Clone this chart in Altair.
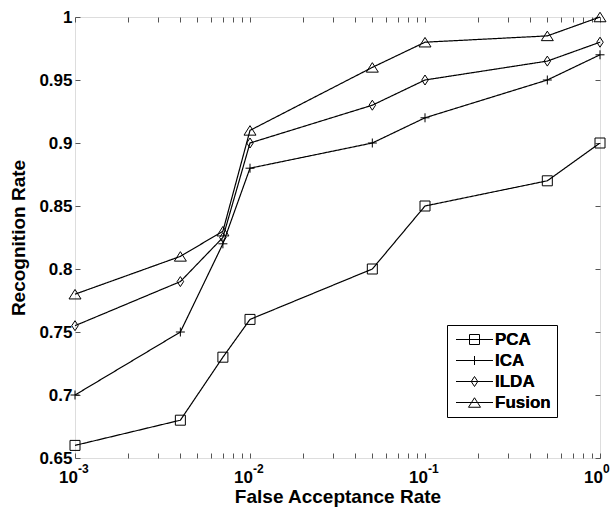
import altair as alt
import pandas as pd

# ---- data ----
far = [0.001, 0.004, 0.007, 0.01, 0.05, 0.1, 0.5, 1.0]
pca = [0.66, 0.68, 0.73, 0.76, 0.80, 0.85, 0.87, 0.90]
ica = [0.70, 0.75, 0.82, 0.88, 0.90, 0.92, 0.95, 0.97]
ilda = [0.755, 0.79, 0.825, 0.90, 0.93, 0.95, 0.965, 0.98]
fusion = [0.78, 0.81, 0.83, 0.91, 0.96, 0.98, 0.985, 1.0]
series_names = ["PCA", "ICA", "ILDA", "Fusion"]

decades = [0.001, 0.01, 0.1, 1.0]
decade_base = ["10", "10", "10", "10"]
decade_exp = ["-3", "-2", "-1", "0"]
y_ticks = [0.65, 0.7, 0.75, 0.8, 0.85, 0.9, 0.95, 1.0]
minor_mult = [2, 3, 4, 5, 6, 7, 8, 9]

x_ticks = list(decades)
for d in decades[:-1]:
    for m in minor_mult:
        x_ticks.append(round(d * m, 6))

rows = []
for name, vals in zip(series_names, [pca, ica, ilda, fusion]):
    for x, y in zip(far, vals):
        rows.append({"series": name, "series_l": name + " ", "far": x, "rate": y})
df = pd.DataFrame(rows)
lab = pd.DataFrame({"x": decades, "base": decade_base, "exp": decade_exp})

W, H = 525, 441
GRAY = "#808080"
FONT = "Liberation Sans"

xscale = alt.Scale(type="log", domain=[0.001, 1.0])
yscale = alt.Scale(domain=[0.65, 1.0], nice=False, zero=False)

shape_paths = [
    "M-1,-1H1V1H-1Z",
    "M-0.9,0H0.9M0,-0.9V0.9",
    "M0,-1L0.65,0L0,1L-0.65,0Z",
    "M0,-0.95L1.2,0.95L-1.2,0.95Z",
]

leg_common = dict(
    title=None, orient="none", legendX=372, legendY=308, padding=6,
    labelFont=FONT, labelFontSize=17, labelFontWeight="bold",
    labelColor="black", symbolSize=100,
    symbolStrokeColor="black", symbolStrokeWidth=1,
    symbolOffset=13, labelOffset=12, rowPadding=3,
)

lines = alt.Chart(df).mark_line(color="black", strokeWidth=1.2).encode(
    x=alt.X("far:Q", scale=xscale,
            axis=alt.Axis(values=x_ticks, labels=False, title="False Acceptance Rate",
                          domain=False, grid=False, offset=-5, tickSize=5,
                          tickColor="#555555", titleFont=FONT, titleFontSize=19,
                          titleFontWeight="bold", titleColor="black", titlePadding=29)),
    y=alt.Y("rate:Q", scale=yscale,
            axis=alt.Axis(values=y_ticks, format=".2~f", title="Recognition Rate",
                          domain=False, grid=False, offset=-5, tickSize=5,
                          tickColor="#555555", labelFont=FONT, labelFontSize=17,
                          labelFontWeight="bold", labelColor="black", labelPadding=3,
                          labelFlush=False, labelOverlap=False,
                          titleFont=FONT, titleFontSize=19, titleFontWeight="bold",
                          titleColor="black", titlePadding=10)),
    strokeDash=alt.StrokeDash(
        "series_l:N",
        scale=alt.Scale(domain=[n + " " for n in series_names],
                        range=[[1, 0]] * 4),
        legend=alt.Legend(symbolType="M-3.7,0H3.7", strokeColor="black",
                          fillColor="transparent", **leg_common),
    ),
)

points = alt.Chart(df).mark_point(filled=False, stroke="black", strokeWidth=1,
                                  size=100, opacity=1).encode(
    x=alt.X("far:Q", scale=xscale,
            axis=alt.Axis(orient="top", values=x_ticks, labels=False, title=None,
                          domain=False, grid=False, offset=-5, tickSize=5,
                          tickColor="#555555")),
    y=alt.Y("rate:Q", scale=yscale,
            axis=alt.Axis(orient="right", values=y_ticks, labels=False, title=None,
                          domain=False, grid=False, offset=-5, tickSize=5,
                          tickColor="#555555")),
    shape=alt.Shape("series:N",
                    scale=alt.Scale(domain=series_names, range=shape_paths),
                    legend=alt.Legend(fillColor="transparent",
                                      symbolFillColor="white", **leg_common)),
)

base_txt = alt.Chart(lab).mark_text(font=FONT, fontSize=17, fontWeight="bold",
                                    color="black", align="right", dx=3,
                                    baseline="alphabetic").encode(
    x=alt.X("x:Q", scale=xscale, axis=None),
    y=alt.value(H + 25),
    text="base:N",
)
exp_txt = alt.Chart(lab).mark_text(font=FONT, fontSize=12, fontWeight="bold",
                                   color="black", align="left", dx=3,
                                   baseline="alphabetic").encode(
    x=alt.X("x:Q", scale=xscale, axis=None),
    y=alt.value(H + 15),
    text="exp:N",
)

chart = alt.layer(lines, points, base_txt, exp_txt).resolve_axis(
    x="independent", y="independent"
).properties(
    width=W, height=H,
    autosize=alt.AutoSizeParams(type="none"),
    padding={"left": 75, "top": 17, "right": 10, "bottom": 53},
    title=alt.TitleParams(
        "Recognition Rate versus False Acceptance Rate",
        font="Liberation Serif", fontSize=26, fontWeight="bold", color="black",
        anchor="middle", frame="group", baseline="alphabetic", offset=10,
        dx=-8, dy=10,
    ),
).configure_view(stroke=GRAY, strokeWidth=1).configure(background="white")

chart.save("out.html", embed_options={"renderer": "svg", "actions": False})
